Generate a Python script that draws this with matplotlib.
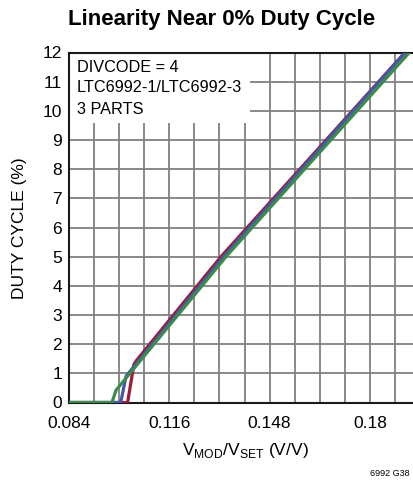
import matplotlib
matplotlib.use("Agg")
import matplotlib.pyplot as plt
from matplotlib.patches import Rectangle

# Data
red_x = [0.084, 0.1027, 0.1047, 0.1056, 0.1325, 0.1912]
red_y = [0.0, 0.0, 1.30, 1.45, 5.0, 12.0]
blue_x = [0.084, 0.1005, 0.1022, 0.1333, 0.1913]
blue_y = [0.0, 0.0, 0.90, 5.0, 12.0]
green_x = [0.084, 0.0977, 0.0990, 0.1341, 0.1926]
green_y = [0.0, 0.0, 0.42, 5.0, 12.0]

x_ticks = [0.084, 0.116, 0.148, 0.18]
x_tick_labels = ["0.084", "0.116", "0.148", "0.18"]
y_ticks = list(range(0, 13))
annotation = ["DIVCODE = 4", "LTC6992-1/LTC6992-3", "3 PARTS"]

FONT = ["Liberation Sans Narrow", "Liberation Sans", "DejaVu Sans"]
plt.rcParams["font.family"] = FONT
plt.rcParams["mathtext.fontset"] = "custom"
plt.rcParams["mathtext.rm"] = "Liberation Sans"

W, H = 414, 482
fig = plt.figure(figsize=(W / 100, H / 100), dpi=100)
ax_l, ax_r, ax_t, ax_b = 69, 420, 52.5, 402.5
ax = fig.add_axes([ax_l / W, 1 - ax_b / H, (ax_r - ax_l) / W, (ax_b - ax_t) / H])

xmin, xmax = 0.084, 0.196
ax.set_xlim(xmin, xmax)
ax.set_ylim(0, 12)

grid_x = [0.084 + 0.008 * i for i in range(15)]
ax.set_xticks(grid_x)
ax.set_xticklabels([x_tick_labels[x_ticks.index(round(g, 3))] if round(g, 3) in x_ticks else "" for g in grid_x])
ax.set_yticks(y_ticks)
ax.set_yticklabels([str(v) for v in y_ticks])
ax.tick_params(length=0, labelsize=12.5, colors="black")
ax.tick_params(axis="x", pad=10)
ax.tick_params(axis="y", pad=5)
ax.grid(True, color="#808080", linewidth=1.3, zorder=1)
ax.set_axisbelow(True)
for s in ax.spines.values():
    s.set_linewidth(1.5)
    s.set_color("#1a1a1a")

# white box behind annotation
ax.add_patch(Rectangle((xmin, 9.6), 0.1419 - xmin, 2.4, facecolor="white",
                       edgecolor="none", zorder=1.5))

lw = 2.3
ax.plot(red_x, red_y, color="#9b1b3c", linewidth=lw, zorder=3, solid_capstyle="butt")
ax.plot(blue_x, blue_y, color="#4557a8", linewidth=lw, zorder=4, solid_capstyle="butt")
ax.plot(green_x, green_y, color="#3b8b4b", linewidth=lw, zorder=5, solid_capstyle="butt")

for i, t in enumerate(annotation):
    fig.text(77 / W, 1 - (67 + 21 * i) / H, t, fontsize=11.7, va="center", ha="left")

fig.text(222 / W, 1 - 20 / H, "Linearity Near 0% Duty Cycle", fontsize=16,
         fontweight="bold", ha="center", va="center")
fig.text(20 / W, 1 - 228 / H, "DUTY CYCLE (%)", fontsize=12.5, rotation=90,
         ha="center", va="center")
fig.text(245 / W, 1 - 450 / H, r"V$_{\mathrm{MOD}}$/V$_{\mathrm{SET}}$ (V/V)",
         fontsize=12.5, ha="center", va="center")
fig.text(370 / W, 1 - 473 / H, "6992 G38", fontsize=6.5, ha="left", va="center")

fig.savefig("out.png", dpi=100)
